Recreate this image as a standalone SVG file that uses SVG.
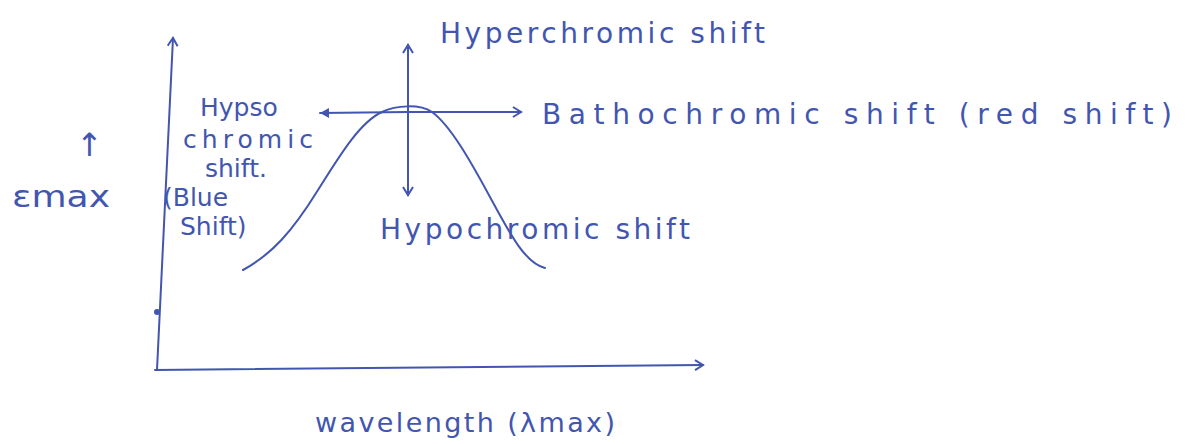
<svg xmlns="http://www.w3.org/2000/svg" width="1198" height="444" viewBox="0 0 1198 444">
<style>
.ln{fill:none;stroke:#4256b0;stroke-width:2;stroke-linecap:round;stroke-linejoin:round}
.tx{font-family:"DejaVu Sans","Liberation Sans",sans-serif;fill:#4256b0}
</style>
<defs>
<marker id="open" markerWidth="12" markerHeight="12" refX="10" refY="6" orient="auto" markerUnits="userSpaceOnUse">
<path d="M2,1 L10,6 L2,11" fill="none" stroke="#4256b0" stroke-width="2"/>
</marker>
<marker id="solid" markerWidth="12" markerHeight="12" refX="10" refY="6" orient="auto" markerUnits="userSpaceOnUse">
<path d="M1,1 L10,6 L1,11 Z" fill="#4256b0"/>
</marker>
</defs>
<rect width="1198" height="444" fill="#ffffff"/>
<g id="axes">
<path class="ln" d="M157,370 L173,38" marker-end="url(#open)"/>
<path class="ln" d="M155,370 L703,365" marker-end="url(#open)"/>
<circle cx="157" cy="312" r="3" fill="#4256b0"/>
</g>
<g id="curve">
<path class="ln" stroke-width="1.5" d="M243,270 C272,254 292,232 318,190 C340,155 360,122 382,112 C396,105 420,104 432,112 C450,125 470,160 490,197 C510,234 525,263 545,268"/>
</g>
<g id="connectors">
<path class="ln" d="M408,195 L408,45" marker-end="url(#open)"/>
<path class="ln" d="M408,140 L408,195" marker-end="url(#open)"/>
<path class="ln" d="M408,112 L320,113" marker-end="url(#solid)"/>
<path class="ln" d="M408,112 L521,112" marker-end="url(#open)"/>
</g>
<g id="hyperchromic"><text class="tx" x="440" y="43" font-size="28" textLength="325" lengthAdjust="spacing">Hyperchromic shift</text></g>
<g id="hypsochromic" font-size="25">
<text class="tx" x="200" y="116">Hypso</text>
<text class="tx" x="183" y="148" textLength="130" lengthAdjust="spacing">chromic</text>
<text class="tx" x="205" y="177">shift.</text>
<text class="tx" x="163" y="206">(Blue</text>
<text class="tx" x="180" y="235">Shift)</text>
</g>
<g id="bathochromic"><text class="tx" x="542" y="124" font-size="28" textLength="630" lengthAdjust="spacing">Bathochromic shift  (red shift)</text></g>
<g id="hypochromic"><text class="tx" x="380" y="239" font-size="28" textLength="310" lengthAdjust="spacing">Hypochromic shift</text></g>
<g id="ylabel">
<text class="tx" x="76" y="156" font-size="32">↑</text>
<text class="tx" x="12" y="207" font-size="30" textLength="98" lengthAdjust="spacingAndGlyphs">εmax</text>
</g>
<g id="xlabel"><text class="tx" x="315" y="432" font-size="27" textLength="300" lengthAdjust="spacing">wavelength (λmax)</text></g>
</svg>
